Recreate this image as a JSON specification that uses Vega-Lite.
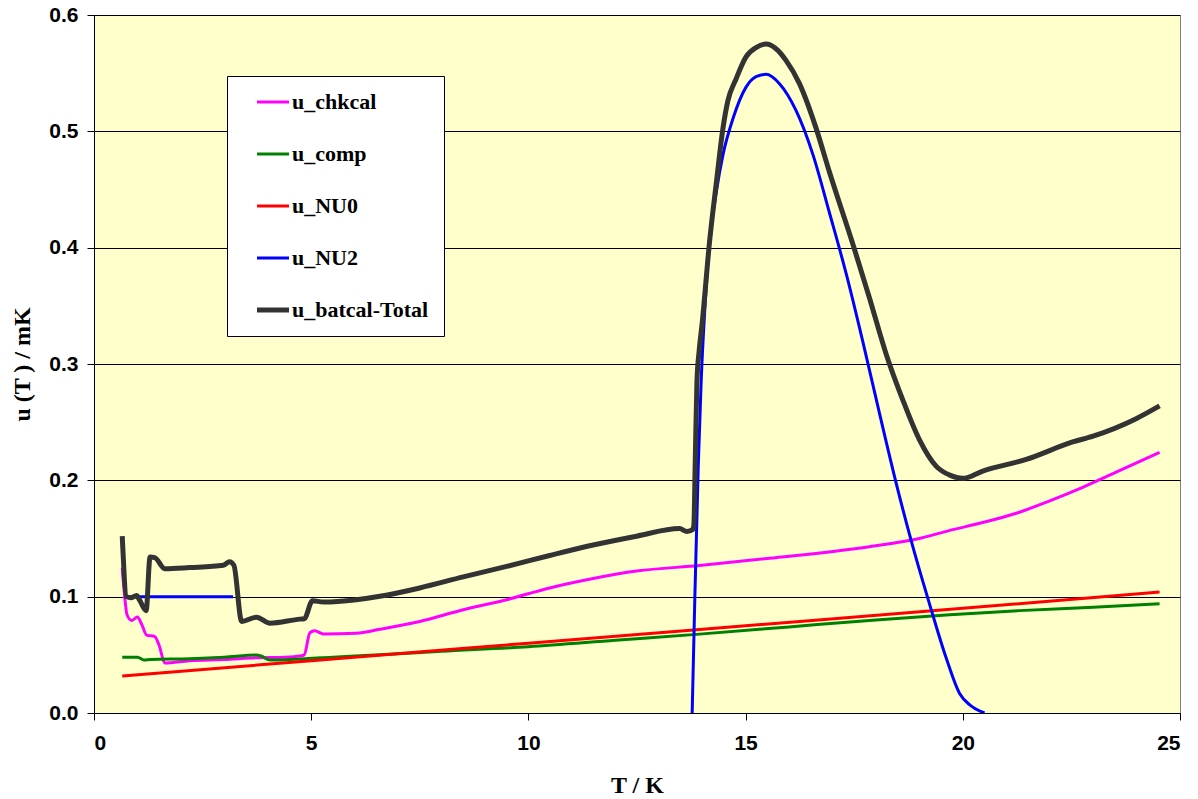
{
  "$schema": "https://vega.github.io/schema/vega-lite/v6.json",
  "autosize": {"type": "none"},
  "width": 1086,
  "height": 698,
  "padding": {"left": 94, "top": 15, "right": 18, "bottom": 86},
  "background": "white",
  "config": {
    "view": {"fill": "#FFFFCC", "stroke": "#808080", "strokeWidth": 1}
  },
  "data": {"values": [
    {"series": "u_chkcal", "seg": "a", "T": 0.65, "u": 0.125},
    {"series": "u_chkcal", "seg": "a", "T": 0.72, "u": 0.095},
    {"series": "u_chkcal", "seg": "a", "T": 0.76, "u": 0.0845},
    {"series": "u_chkcal", "seg": "a", "T": 0.87, "u": 0.0795},
    {"series": "u_chkcal", "seg": "a", "T": 1.0, "u": 0.0825},
    {"series": "u_chkcal", "seg": "a", "T": 1.1, "u": 0.076},
    {"series": "u_chkcal", "seg": "a", "T": 1.21, "u": 0.067},
    {"series": "u_chkcal", "seg": "a", "T": 1.4, "u": 0.0657},
    {"series": "u_chkcal", "seg": "a", "T": 1.5, "u": 0.058},
    {"series": "u_chkcal", "seg": "a", "T": 1.63, "u": 0.043},
    {"series": "u_chkcal", "seg": "a", "T": 2.2, "u": 0.045},
    {"series": "u_chkcal", "seg": "a", "T": 3.0, "u": 0.046},
    {"series": "u_chkcal", "seg": "a", "T": 3.74, "u": 0.0475},
    {"series": "u_chkcal", "seg": "a", "T": 4.4, "u": 0.048},
    {"series": "u_chkcal", "seg": "a", "T": 4.74, "u": 0.049},
    {"series": "u_chkcal", "seg": "a", "T": 4.84, "u": 0.05},
    {"series": "u_chkcal", "seg": "a", "T": 4.97, "u": 0.069},
    {"series": "u_chkcal", "seg": "a", "T": 5.08, "u": 0.0706},
    {"series": "u_chkcal", "seg": "a", "T": 5.28, "u": 0.068},
    {"series": "u_chkcal", "seg": "a", "T": 6.04, "u": 0.0686},
    {"series": "u_chkcal", "seg": "a", "T": 6.58, "u": 0.072},
    {"series": "u_chkcal", "seg": "a", "T": 7.5, "u": 0.0787},
    {"series": "u_chkcal", "seg": "a", "T": 8.5, "u": 0.0888},
    {"series": "u_chkcal", "seg": "a", "T": 9.5, "u": 0.0974},
    {"series": "u_chkcal", "seg": "a", "T": 10.49, "u": 0.1075},
    {"series": "u_chkcal", "seg": "a", "T": 11.49, "u": 0.1156},
    {"series": "u_chkcal", "seg": "a", "T": 12.49, "u": 0.122},
    {"series": "u_chkcal", "seg": "a", "T": 13.94, "u": 0.1268},
    {"series": "u_chkcal", "seg": "a", "T": 15.55, "u": 0.133},
    {"series": "u_chkcal", "seg": "a", "T": 17.85, "u": 0.143},
    {"series": "u_chkcal", "seg": "a", "T": 19.0, "u": 0.15},
    {"series": "u_chkcal", "seg": "a", "T": 19.7, "u": 0.157},
    {"series": "u_chkcal", "seg": "a", "T": 20.46, "u": 0.1637},
    {"series": "u_chkcal", "seg": "a", "T": 21.23, "u": 0.1717},
    {"series": "u_chkcal", "seg": "a", "T": 22.0, "u": 0.1824},
    {"series": "u_chkcal", "seg": "a", "T": 22.76, "u": 0.194},
    {"series": "u_chkcal", "seg": "a", "T": 23.53, "u": 0.207},
    {"series": "u_chkcal", "seg": "a", "T": 24.53, "u": 0.224},

    {"series": "u_comp", "seg": "a", "T": 0.65, "u": 0.048},
    {"series": "u_comp", "seg": "a", "T": 1.0, "u": 0.048},
    {"series": "u_comp", "seg": "a", "T": 1.15, "u": 0.0455},
    {"series": "u_comp", "seg": "a", "T": 1.3, "u": 0.046},
    {"series": "u_comp", "seg": "a", "T": 2.21, "u": 0.0467},
    {"series": "u_comp", "seg": "a", "T": 3.0, "u": 0.048},
    {"series": "u_comp", "seg": "a", "T": 3.74, "u": 0.0499},
    {"series": "u_comp", "seg": "a", "T": 3.85, "u": 0.049},
    {"series": "u_comp", "seg": "a", "T": 4.05, "u": 0.0455},
    {"series": "u_comp", "seg": "a", "T": 4.5, "u": 0.046},
    {"series": "u_comp", "seg": "a", "T": 5.5, "u": 0.048},
    {"series": "u_comp", "seg": "a", "T": 6.58, "u": 0.05},
    {"series": "u_comp", "seg": "a", "T": 8.0, "u": 0.053},
    {"series": "u_comp", "seg": "a", "T": 10.0, "u": 0.057},
    {"series": "u_comp", "seg": "a", "T": 12.0, "u": 0.0625},
    {"series": "u_comp", "seg": "a", "T": 13.94, "u": 0.0678},
    {"series": "u_comp", "seg": "a", "T": 16.0, "u": 0.074},
    {"series": "u_comp", "seg": "a", "T": 18.0, "u": 0.08},
    {"series": "u_comp", "seg": "a", "T": 19.7, "u": 0.0845},
    {"series": "u_comp", "seg": "a", "T": 21.3, "u": 0.088},
    {"series": "u_comp", "seg": "a", "T": 23.0, "u": 0.091},
    {"series": "u_comp", "seg": "a", "T": 24.53, "u": 0.094},

    {"series": "u_NU0", "seg": "a", "T": 0.65, "u": 0.0317},
    {"series": "u_NU0", "seg": "a", "T": 5.0, "u": 0.045},
    {"series": "u_NU0", "seg": "a", "T": 10.0, "u": 0.06},
    {"series": "u_NU0", "seg": "a", "T": 15.0, "u": 0.075},
    {"series": "u_NU0", "seg": "a", "T": 20.0, "u": 0.09},
    {"series": "u_NU0", "seg": "a", "T": 24.53, "u": 0.104},

    {"series": "u_NU2", "seg": "a", "T": 0.7, "u": 0.1},
    {"series": "u_NU2", "seg": "a", "T": 3.2, "u": 0.1},
    {"series": "u_NU2", "seg": "b", "T": 13.77, "u": 0.0},
    {"series": "u_NU2", "seg": "b", "T": 13.83, "u": 0.097},
    {"series": "u_NU2", "seg": "b", "T": 13.91, "u": 0.212},
    {"series": "u_NU2", "seg": "b", "T": 13.98, "u": 0.288},
    {"series": "u_NU2", "seg": "b", "T": 14.06, "u": 0.346},
    {"series": "u_NU2", "seg": "b", "T": 14.17, "u": 0.403},
    {"series": "u_NU2", "seg": "b", "T": 14.33, "u": 0.449},
    {"series": "u_NU2", "seg": "b", "T": 14.48, "u": 0.48},
    {"series": "u_NU2", "seg": "b", "T": 14.71, "u": 0.511},
    {"series": "u_NU2", "seg": "b", "T": 15.01, "u": 0.538},
    {"series": "u_NU2", "seg": "b", "T": 15.24, "u": 0.547},
    {"series": "u_NU2", "seg": "b", "T": 15.47, "u": 0.549},
    {"series": "u_NU2", "seg": "b", "T": 15.78, "u": 0.541},
    {"series": "u_NU2", "seg": "b", "T": 16.16, "u": 0.518},
    {"series": "u_NU2", "seg": "b", "T": 16.55, "u": 0.48},
    {"series": "u_NU2", "seg": "b", "T": 16.93, "u": 0.43},
    {"series": "u_NU2", "seg": "b", "T": 17.32, "u": 0.377},
    {"series": "u_NU2", "seg": "b", "T": 17.7, "u": 0.319},
    {"series": "u_NU2", "seg": "b", "T": 18.08, "u": 0.258},
    {"series": "u_NU2", "seg": "b", "T": 18.47, "u": 0.197},
    {"series": "u_NU2", "seg": "b", "T": 18.85, "u": 0.143},
    {"series": "u_NU2", "seg": "b", "T": 19.24, "u": 0.093},
    {"series": "u_NU2", "seg": "b", "T": 19.62, "u": 0.047},
    {"series": "u_NU2", "seg": "b", "T": 19.93, "u": 0.0165},
    {"series": "u_NU2", "seg": "b", "T": 20.16, "u": 0.007},
    {"series": "u_NU2", "seg": "b", "T": 20.5, "u": 0.0},

    {"series": "u_batcal-Total", "seg": "a", "T": 0.65, "u": 0.152},
    {"series": "u_batcal-Total", "seg": "a", "T": 0.75, "u": 0.1},
    {"series": "u_batcal-Total", "seg": "a", "T": 0.85, "u": 0.099},
    {"series": "u_batcal-Total", "seg": "a", "T": 0.98, "u": 0.101},
    {"series": "u_batcal-Total", "seg": "a", "T": 1.05, "u": 0.097},
    {"series": "u_batcal-Total", "seg": "a", "T": 1.2, "u": 0.088},
    {"series": "u_batcal-Total", "seg": "a", "T": 1.29, "u": 0.134},
    {"series": "u_batcal-Total", "seg": "a", "T": 1.4, "u": 0.1335},
    {"series": "u_batcal-Total", "seg": "a", "T": 1.63, "u": 0.124},
    {"series": "u_batcal-Total", "seg": "a", "T": 2.2, "u": 0.125},
    {"series": "u_batcal-Total", "seg": "a", "T": 2.98, "u": 0.127},
    {"series": "u_batcal-Total", "seg": "a", "T": 3.12, "u": 0.13},
    {"series": "u_batcal-Total", "seg": "a", "T": 3.22, "u": 0.127},
    {"series": "u_batcal-Total", "seg": "a", "T": 3.4, "u": 0.0787},
    {"series": "u_batcal-Total", "seg": "a", "T": 3.74, "u": 0.0824},
    {"series": "u_batcal-Total", "seg": "a", "T": 4.05, "u": 0.0772},
    {"series": "u_batcal-Total", "seg": "a", "T": 4.74, "u": 0.0807},
    {"series": "u_batcal-Total", "seg": "a", "T": 4.84, "u": 0.081},
    {"series": "u_batcal-Total", "seg": "a", "T": 5.03, "u": 0.0965},
    {"series": "u_batcal-Total", "seg": "a", "T": 5.28, "u": 0.0954},
    {"series": "u_batcal-Total", "seg": "a", "T": 6.04, "u": 0.0974},
    {"series": "u_batcal-Total", "seg": "a", "T": 6.58, "u": 0.1003},
    {"series": "u_batcal-Total", "seg": "a", "T": 7.5, "u": 0.1075},
    {"series": "u_batcal-Total", "seg": "a", "T": 8.5, "u": 0.117},
    {"series": "u_batcal-Total", "seg": "a", "T": 9.5, "u": 0.126},
    {"series": "u_batcal-Total", "seg": "a", "T": 10.49, "u": 0.1354},
    {"series": "u_batcal-Total", "seg": "a", "T": 11.49, "u": 0.1444},
    {"series": "u_batcal-Total", "seg": "a", "T": 12.49, "u": 0.152},
    {"series": "u_batcal-Total", "seg": "a", "T": 13.48, "u": 0.1585},
    {"series": "u_batcal-Total", "seg": "a", "T": 13.65, "u": 0.156},
    {"series": "u_batcal-Total", "seg": "a", "T": 13.79, "u": 0.158},
    {"series": "u_batcal-Total", "seg": "a", "T": 13.81, "u": 0.162},
    {"series": "u_batcal-Total", "seg": "a", "T": 13.84, "u": 0.215},
    {"series": "u_batcal-Total", "seg": "a", "T": 13.88, "u": 0.285},
    {"series": "u_batcal-Total", "seg": "a", "T": 13.93, "u": 0.311},
    {"series": "u_batcal-Total", "seg": "a", "T": 14.0, "u": 0.335},
    {"series": "u_batcal-Total", "seg": "a", "T": 14.17, "u": 0.405},
    {"series": "u_batcal-Total", "seg": "a", "T": 14.33, "u": 0.457},
    {"series": "u_batcal-Total", "seg": "a", "T": 14.48, "u": 0.503},
    {"series": "u_batcal-Total", "seg": "a", "T": 14.59, "u": 0.526},
    {"series": "u_batcal-Total", "seg": "a", "T": 14.78, "u": 0.545},
    {"series": "u_batcal-Total", "seg": "a", "T": 15.01, "u": 0.564},
    {"series": "u_batcal-Total", "seg": "a", "T": 15.24, "u": 0.572},
    {"series": "u_batcal-Total", "seg": "a", "T": 15.47, "u": 0.575},
    {"series": "u_batcal-Total", "seg": "a", "T": 15.7, "u": 0.571},
    {"series": "u_batcal-Total", "seg": "a", "T": 15.93, "u": 0.561},
    {"series": "u_batcal-Total", "seg": "a", "T": 16.24, "u": 0.541},
    {"series": "u_batcal-Total", "seg": "a", "T": 16.62, "u": 0.503},
    {"series": "u_batcal-Total", "seg": "a", "T": 16.93, "u": 0.465},
    {"series": "u_batcal-Total", "seg": "a", "T": 17.47, "u": 0.403},
    {"series": "u_batcal-Total", "seg": "a", "T": 17.85, "u": 0.357},
    {"series": "u_batcal-Total", "seg": "a", "T": 18.24, "u": 0.308},
    {"series": "u_batcal-Total", "seg": "a", "T": 18.62, "u": 0.269},
    {"series": "u_batcal-Total", "seg": "a", "T": 19.0, "u": 0.235},
    {"series": "u_batcal-Total", "seg": "a", "T": 19.39, "u": 0.212},
    {"series": "u_batcal-Total", "seg": "a", "T": 19.7, "u": 0.2045},
    {"series": "u_batcal-Total", "seg": "a", "T": 20.0, "u": 0.2017},
    {"series": "u_batcal-Total", "seg": "a", "T": 20.46, "u": 0.208},
    {"series": "u_batcal-Total", "seg": "a", "T": 21.46, "u": 0.218},
    {"series": "u_batcal-Total", "seg": "a", "T": 22.53, "u": 0.233},
    {"series": "u_batcal-Total", "seg": "a", "T": 23.0, "u": 0.238},
    {"series": "u_batcal-Total", "seg": "a", "T": 23.99, "u": 0.253},
    {"series": "u_batcal-Total", "seg": "a", "T": 24.53, "u": 0.264}
  ]},
  "encoding": {
    "x": {
      "field": "T", "type": "quantitative",
      "scale": {"domain": [0, 25], "nice": false, "zero": false},
      "axis": {
        "values": [0, 5, 10, 15, 20, 25],
        "grid": false,
        "domainColor": "#000000", "domainWidth": 1,
        "tickColor": "#000000", "tickSize": 7,
        "labelFont": "Liberation Sans", "labelFontWeight": "bold", "labelFontSize": 21, "labelColor": "#000000",
        "labelPadding": 12,
        "title": "T / K",
        "titleFont": "Liberation Serif", "titleFontWeight": "bold", "titleFontSize": 24, "titleColor": "#000000",
        "titlePadding": 20
      }
    },
    "y": {
      "field": "u", "type": "quantitative",
      "scale": {"domain": [0, 0.6], "nice": false},
      "axis": {
        "values": [0, 0.1, 0.2, 0.3, 0.4, 0.5, 0.6],
        "format": ".1f",
        "grid": true, "gridColor": "#000000", "gridWidth": 1,
        "domainColor": "#000000", "domainWidth": 1,
        "tickColor": "#000000", "tickSize": 7,
        "labelFont": "Liberation Sans", "labelFontWeight": "bold", "labelFontSize": 21, "labelColor": "#000000",
        "labelPadding": 9,
        "title": "u (T ) / mK",
        "titleFont": "Liberation Serif", "titleFontWeight": "bold", "titleFontSize": 24, "titleColor": "#000000",
        "titlePadding": 14
      }
    },
    "color": {
      "field": "series", "type": "nominal",
      "scale": {
        "domain": ["u_chkcal", "u_comp", "u_NU0", "u_NU2", "u_batcal-Total"],
        "range": ["#FF00FF", "#008000", "#FF0000", "#0000FF", "#333333"]
      },
      "legend": {
        "orient": "none", "legendX": 133, "legendY": 61,
        "title": null,
        "fillColor": "#FFFFFF", "strokeColor": "#000000",
        "padding": 15,
        "symbolType": "stroke", "symbolSize": 1024, "symbolStrokeWidth": 3, "symbolOffset": 20,
        "labelFont": "Liberation Serif", "labelFontWeight": "bold", "labelFontSize": 22, "labelColor": "#000000",
        "labelOffset": 8, "rowPadding": 30,
        "labelExpr": "datum.label + '\u2002\u2002\u2002'",
        "encode": {"symbols": {"update": {"strokeWidth": {"signal": "datum.value === 'u_batcal-Total' ? 5 : 3"}}}}
      }
    },
    "detail": {"field": "seg", "type": "nominal"}
  },
  "layer": [
    {
      "transform": [{"filter": "datum.series !== 'u_batcal-Total'"}],
      "mark": {"type": "line", "interpolate": "monotone", "strokeWidth": 3, "clip": true}
    },
    {
      "transform": [{"filter": "datum.series === 'u_batcal-Total'"}],
      "mark": {"type": "line", "interpolate": "monotone", "strokeWidth": 5, "clip": true}
    }
  ]
}
